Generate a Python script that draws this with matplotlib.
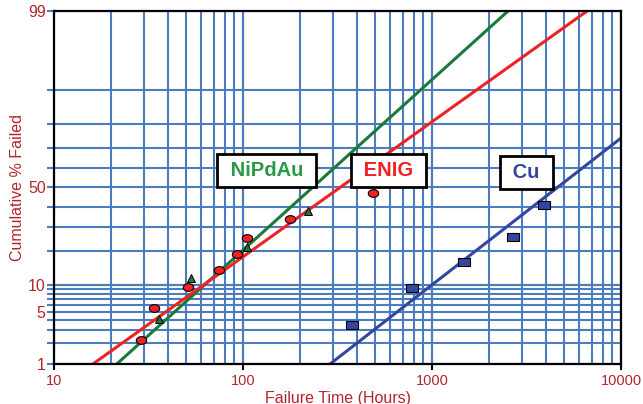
import numpy as np
import matplotlib
matplotlib.use("Agg")
import matplotlib.pyplot as plt
from statistics import NormalDist

plt.rcParams['font.family'] = ['Liberation Sans', 'DejaVu Sans']

# failure data (hours, cumulative % failed)
enig_t = [29, 34, 51, 75, 93, 105, 177, 490]
enig_p = [2.2, 5.6, 9.4, 13.8, 18.9, 25.2, 33.7, 47.2]
nipdau_t = [36, 53, 105, 222]
nipdau_p = [4.2, 11.7, 21.6, 37.8]
cu_t = [378, 782, 1476, 2686, 3917]
cu_p = [3.5, 9.3, 16.3, 25.8, 41.1]

# lognormal fit lines: median life (hours), sigma (log10)
fit_names = ['NiPdAu', 'ENIG', 'Cu']
fit_median = [233, 326, 4605]
fit_sigma = [0.445, 0.562, 0.517]

y_major = [1, 5, 10, 50, 99]
y_minor = [2, 3, 4, 6, 7, 8, 9, 20, 30, 40, 60, 70, 80, 90]
x_major = [10, 100, 1000, 10000]

txt_red = '#b3262c'
grid_blue = '#4a7dc0'
grid_red = '#c0282c'
c_green = '#1a7a3a'
c_red = '#ee2224'
c_blue = '#3347a0'

nd = NormalDist()
probit = np.vectorize(lambda p: nd.inv_cdf(min(max(p / 100.0, 1e-9), 1 - 1e-9)), otypes=[float])
unprobit = np.vectorize(lambda z: nd.cdf(z) * 100.0, otypes=[float])

fig = plt.figure(figsize=(6.43, 4.04), dpi=100)
ax = fig.add_axes([0.084, 0.099, 0.8818, 0.8738])
ax.set_xscale('log')
ax.set_yscale('function', functions=(probit, unprobit))
ax.set_xlim(10, 10000)
ax.set_ylim(1, 99)

ax.set_xticks(x_major)
ax.set_xticklabels([str(v) for v in x_major])
ax.set_yticks(y_major)
ax.set_yticklabels([str(v) for v in y_major])
ax.set_yticks(y_minor, minor=True)
ax.yaxis.set_minor_formatter(plt.NullFormatter())
ax.xaxis.set_minor_formatter(plt.NullFormatter())

ax.grid(True, which='both', color=grid_blue, lw=1.5)
ax.axvline(100, color=grid_red, lw=1.5, zorder=1.5)
ax.axvline(1000, color=grid_red, lw=1.5, zorder=1.5)
ax.axhline(10, color=grid_red, lw=1.5, zorder=1.5)

ax.tick_params(axis='y', which='both', length=5, width=1.5, color=grid_blue,
               labelsize=11.5, labelcolor=txt_red, pad=1)
ax.tick_params(axis='x', which='major', length=4, width=1.5, color='black',
               labelsize=10.5, labelcolor=txt_red, pad=3)
ax.tick_params(axis='x', which='minor', length=0)
for s in ax.spines.values():
    s.set_color('black')
    s.set_linewidth(1.6)
    s.set_zorder(5)

# fit lines
t = np.logspace(1, 4, 300)
line_colors = [c_green, c_red, c_blue]
for med, sig, col in zip(fit_median, fit_sigma, line_colors):
    p = unprobit((np.log10(t) - np.log10(med)) / sig)
    ax.plot(t, p, color=col, lw=2.2, zorder=3)

# markers
th = np.linspace(0, 2 * np.pi, 30)
ellipse = list(zip(1.35 * np.cos(th), np.sin(th)))
rect = [(-1.4, -1), (1.4, -1), (1.4, 1), (-1.4, 1), (-1.4, -1)]
ax.plot(enig_t, enig_p, ls='none', marker=ellipse, ms=7.5, mfc=c_red, mec='black', mew=0.8, zorder=4)
ax.plot(nipdau_t, nipdau_p, ls='none', marker='^', ms=5.5, mfc=c_green, mec='black', mew=0.7, zorder=4)
ax.plot(cu_t, cu_p, ls='none', marker=rect, ms=8, mfc=c_blue, mec='black', mew=0.8, zorder=4)

box = dict(boxstyle='square,pad=0.36', fc='white', ec='black', lw=2)
label_pos = [(0.375, 0.548), (0.590, 0.548), (0.833, 0.5425)]
label_colors = ['#2a9a48', c_red, c_blue]
for name, (lx, ly), col in zip(fit_names, label_pos, label_colors):
    ax.text(lx, ly, ' ' + name + ' ', transform=ax.transAxes, ha='center', va='center',
            fontsize=14.5, fontweight='bold', color=col, bbox=box, zorder=6)

ax.set_xlabel('Failure Time (Hours)', color=txt_red, fontsize=11.5, labelpad=2)
ax.set_ylabel('Cumulative % Failed', color=txt_red, fontsize=11.5, labelpad=2)

fig.savefig('out.png', dpi=100)
